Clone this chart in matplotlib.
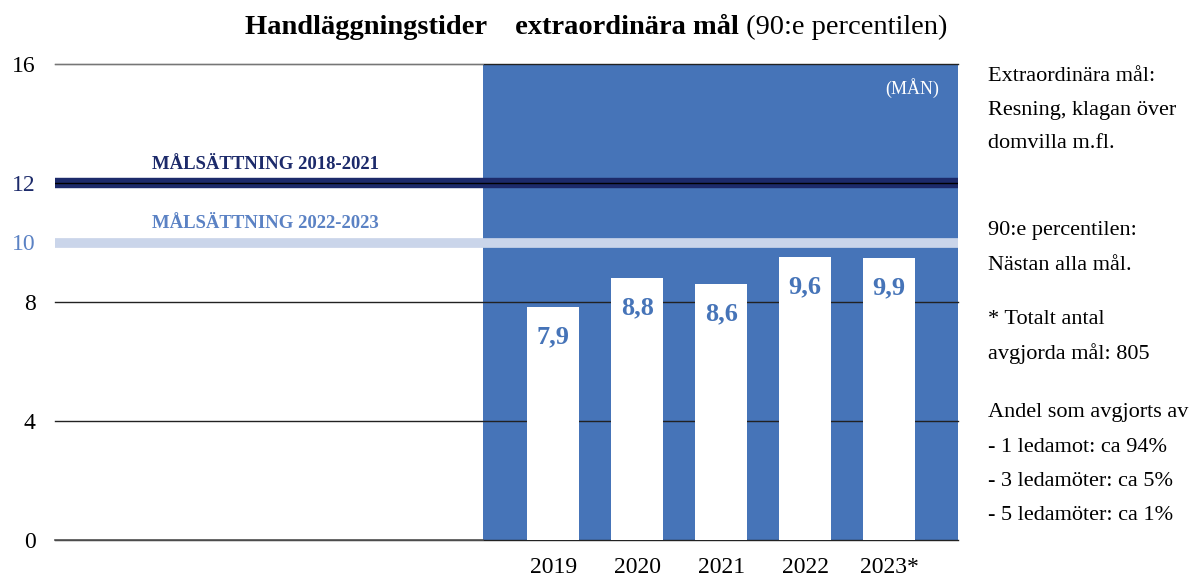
import matplotlib.pyplot as plt
import numpy as np

plt.rcParams['font.family'] = ['Liberation Serif', 'DejaVu Serif']

years = ['2019', '2020', '2021', '2022', '2023']
bar_heights = [7.83, 8.81, 8.6, 9.51, 9.48]
bar_labels = ['7,9', '8,8', '8,6', '9,6', '9,9']
goal_2018_2021 = 12
goal_2022_2023 = 10
grid_values = [0, 4, 8, 16]
ytick_values = [0, 4, 8, 10, 12, 16]
ytick_labels = ['0', '4', '8', '10', '12', '16']
notes = [
    (['Extraordinära mål:', 'Resning, klagan över', 'domvilla m.fl.'], 76),
    (['90:e percentilen:', 'Nästan alla mål.'], 231),
    (['* Totalt antal', 'avgjorda mål: 805'], 320),
    (['Andel som avgjorts av', '- 1 ledamot: ca 94%', '- 3 ledamöter: ca 5%',
      '- 5 ledamöter: ca 1%'], 413),
]

BLUE = '#4674b8'
NAVY = '#1c2a6a'
LIGHT = '#cad5ea'
MID = '#5b82c4'

W, H = 1195, 583
fig = plt.figure(figsize=(W / 100, H / 100), dpi=100)
ax = fig.add_axes([55 / W, 1 - 540 / H, (958 - 55) / W, (540 - 64) / H])

x = np.arange(len(years))
ax.set_xlim(-5.93, 4.82)
ax.set_ylim(0, 16)

# blue background panel
ax.axvspan(-0.84, 4.82, color=BLUE, zorder=0, lw=0)

for v in grid_values:
    ax.axhline(v, color='#222222', lw=1, zorder=1, clip_on=False)
ax.axhline(16, xmin=0, xmax=(-0.84 + 5.93) / 10.75, color='#888888', lw=1.2, zorder=1)
ax.axhline(0, xmin=0, xmax=(-0.84 + 5.93) / 10.75, color='#555555', lw=1.2, zorder=1,
           clip_on=False)

# goal lines
ax.axhline(goal_2022_2023, color=LIGHT, lw=7, zorder=1.5)
ax.axhline(goal_2018_2021, color=NAVY, lw=7.5, zorder=1.5)
ax.axhline(goal_2018_2021, color='black', lw=1, zorder=1.6)

ax.text(-4.78, goal_2018_2021 + 0.35, 'MÅLSÄTTNING 2018-2021', color=NAVY,
        fontsize=13.5, fontweight='bold', va='bottom')
ax.text(-4.78, goal_2022_2023 + 0.35, 'MÅLSÄTTNING 2022-2023', color=MID,
        fontsize=13.5, fontweight='bold', va='bottom')

bars = ax.bar(x, bar_heights, width=0.61, color='white', zorder=2)
for rect, lab in zip(bars, bar_labels):
    ax.text(rect.get_x() + rect.get_width() / 2, rect.get_height() - 1.0, lab,
            ha='center', va='center', color=BLUE, fontsize=19, fontweight='bold', zorder=3)

ax.text(4.6, 15.2, '(MÅN)', color='white', fontsize=13, ha='right', va='center')

ax.set_yticks(ytick_values)
ax.set_yticklabels(ytick_labels, fontsize=17)
tick_colors = {'10': MID, '12': NAVY}
for t in ax.get_yticklabels():
    t.set_color(tick_colors.get(t.get_text(), 'black'))
ax.tick_params(axis='y', length=0, pad=14)

ax.set_xticks(x)
ax.set_xticklabels([y + ('*' if y == '2023' else '') for y in years], fontsize=17)
ax.tick_params(axis='x', length=0, pad=12)

for s in ax.spines.values():
    s.set_visible(False)

t1 = fig.text(245 / W, 1 - 27 / H, 'Handläggningstider    extraordinära mål',
              fontsize=20.5, fontweight='bold', va='center')
ax.annotate(' (90:e percentilen)', xy=(1, 0.5), xycoords=t1, va='center',
            fontsize=20.5, annotation_clip=False)

for lines, ytop in notes:
    for i, line in enumerate(lines):
        fig.text(988 / W, 1 - (ytop + i * 34) / H, line, fontsize=16, va='center')

fig.savefig('out.png', dpi=100)
